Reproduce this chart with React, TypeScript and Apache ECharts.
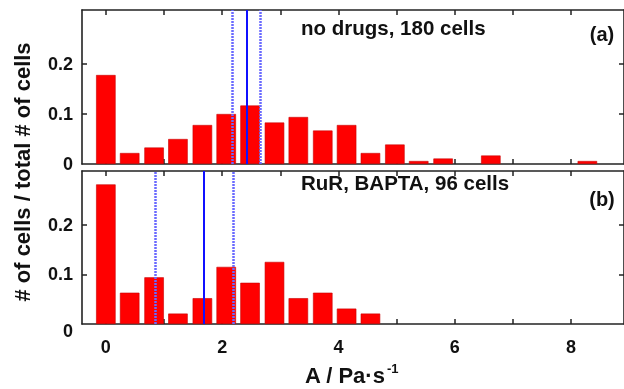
import React, { useEffect, useRef } from "react";
import * as echarts from "echarts";

// bin centres (A / Pa·s^-1)
const binCenters = [0, 0.41, 0.83, 1.24, 1.66, 2.07, 2.48, 2.9, 3.31, 3.73, 4.14, 4.55, 4.97, 5.38, 5.8, 6.21, 6.62, 7.04, 7.45, 7.87, 8.28];
// (a) no drugs, 180 cells
const noDrugs = [0.178, 0.022, 0.033, 0.05, 0.078, 0.1, 0.117, 0.083, 0.094, 0.067, 0.078, 0.022, 0.039, 0.006, 0.011, 0, 0.017, 0, 0, 0, 0.006];
// (b) RuR, BAPTA, 96 cells
const rurBapta = [0.281, 0.063, 0.094, 0.021, 0.052, 0.115, 0.083, 0.125, 0.052, 0.063, 0.031, 0.021, 0, 0, 0, 0, 0, 0, 0, 0, 0];
// vertical lines: [lower, mean, upper]
const linesA = [2.17, 2.42, 2.66];
const linesB = [0.85, 1.68, 2.19];

const xTickValues = [0, 1, 2, 3, 4, 5, 6, 7, 8];
const xLabelValues = [0, 2, 4, 6, 8];
const yTickValues = [0.1, 0.2];
const yLabelValues = [0, 0.1, 0.2];

const titleA = "no drugs, 180 cells";
const titleB = "RuR, BAPTA, 96 cells";
const yTitle = "# of cells / total # of cells";
const xTitle = "A / Pa·s";
const xTitleSup = "-1";

const FONT = "'Liberation Sans', Arial, Helvetica, sans-serif";
const AX = "#222";

export default function App() {
  const ref = useRef<HTMLDivElement>(null);
  useEffect(() => {
    if (!ref.current) return;
    const chart = echarts.init(ref.current, null, { renderer: "svg" });

    const xAxis = (gridIndex: number, position: string, labels: boolean) => ({
      type: "value",
      gridIndex,
      position,
      min: -0.41,
      max: 8.91,
      axisLine: { show: true, onZero: false, lineStyle: { color: AX, width: 1.6 } },
      axisTick: { show: true, inside: true, length: 5, customValues: xTickValues, lineStyle: { color: AX, width: 1.5 } },
      splitLine: { show: false },
      axisLabel: labels
        ? { show: true, customValues: xLabelValues, fontSize: 18, fontWeight: "bold", fontFamily: FONT, color: "#111", margin: 14 }
        : { show: false },
    });
    const yAxis = (gridIndex: number, position: string, labels: boolean, shiftZero: boolean) => ({
      type: "value",
      gridIndex,
      position,
      min: 0,
      max: 0.308,
      axisLine: { show: true, onZero: false, lineStyle: { color: AX, width: 1.6 } },
      axisTick: { show: true, inside: true, length: 5, customValues: yTickValues, lineStyle: { color: AX, width: 1.5 } },
      splitLine: { show: false },
      axisLabel: labels
        ? {
            show: true,
            customValues: yLabelValues,
            fontSize: 18,
            fontWeight: "bold",
            fontFamily: FONT,
            color: "#111",
            margin: 9,
            formatter: (v: number) => {
              const s = String(Math.round(v * 10) / 10);
              return shiftZero && v === 0 ? "{z|" + s + "}" : s;
            },
            rich: { z: { fontSize: 18, fontWeight: "bold", fontFamily: FONT, color: "#111", padding: [14, 0, 0, 0] } },
          }
        : { show: false },
    });

    const barData = (vals: number[]) =>
      binCenters.map((c, i) => [c, vals[i]]).filter((d) => d[1] > 0);

    const markLines = (xs: number[]) => ({
      silent: true,
      symbol: ["none", "none"],
      label: { show: false },
      data: [
        { xAxis: xs[0], lineStyle: { color: "#6a6aff", width: 2.5, type: [2, 1] } },
        { xAxis: xs[1], lineStyle: { color: "#1010ff", width: 2, type: "solid" } },
        { xAxis: xs[2], lineStyle: { color: "#6a6aff", width: 2.5, type: [2, 1] } },
      ],
    });

    const barStyle = { color: "#ff0000", borderColor: "#c80000", borderWidth: 0.6 };

    const text = (t: string, x: number, y: number, size: number, align = "left", rotation = 0) => ({
      type: "text",
      x,
      y,
      rotation,
      style: {
        text: t,
        fontSize: size,
        fontWeight: "bold",
        fontFamily: FONT,
        fill: "#111",
        align,
        verticalAlign: "middle",
      },
    });

    chart.setOption({
      animation: false,
      grid: [
        { left: 82, top: 10, width: 546, height: 154 },
        { left: 82, top: 171, width: 546, height: 153 },
      ],
      xAxis: [xAxis(0, "bottom", false), xAxis(0, "top", false), xAxis(1, "bottom", true), xAxis(1, "top", false)],
      yAxis: [yAxis(0, "left", true, false), yAxis(0, "right", false, false), yAxis(1, "left", true, true), yAxis(1, "right", false, false)],
      series: [
        {
          type: "bar",
          xAxisIndex: 0,
          yAxisIndex: 0,
          barWidth: 19.5,
          itemStyle: barStyle,
          data: barData(noDrugs),
          markLine: markLines(linesA),
        },
        {
          type: "bar",
          xAxisIndex: 2,
          yAxisIndex: 2,
          barWidth: 19.5,
          itemStyle: barStyle,
          data: barData(rurBapta),
          markLine: markLines(linesB),
        },
      ],
      graphic: [
        text(titleA, 301, 27, 20.5),
        text("(a)", 602, 34, 20, "center"),
        text(titleB, 301, 182.5, 20.5),
        text("(b)", 602, 199, 20, "center"),
        text(xTitle, 305, 375.5, 22),
        text(xTitleSup, 387, 368.5, 13),
        text(yTitle, 22, 172, 22, "center", Math.PI / 2),
      ],
    });
    return () => chart.dispose();
  }, []);
  return <div ref={ref} style={{ position: "fixed", left: 0, top: 0, width: 624, height: 389 }} />;
}
